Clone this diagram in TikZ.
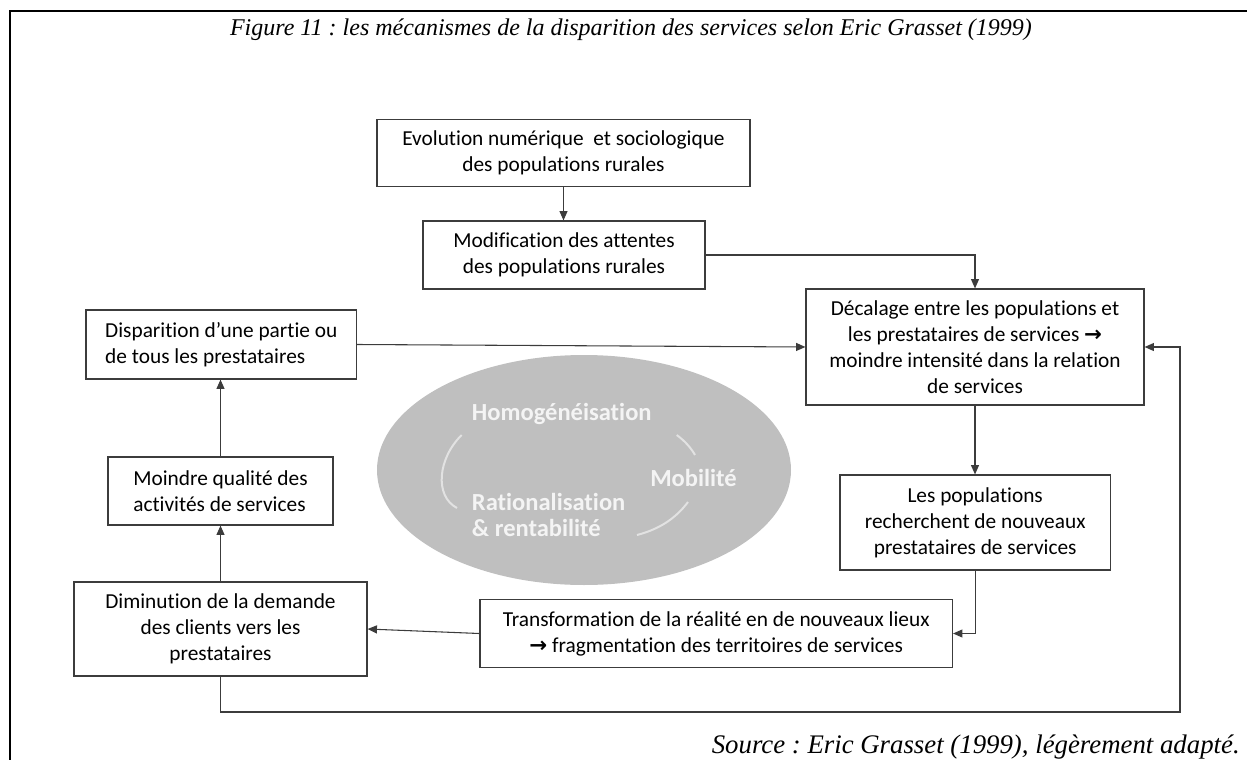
\documentclass[tikz,border=0pt]{standalone}
\usepackage{fontspec}
\setmainfont{Carlito}[Ligatures={NoCommon}]
\newfontfamily\titlefont{Liberation Serif}
\newfontfamily\symfont{DejaVu Sans}
\newcommand{\rarr}{{\symfont\bfseries →}}
\usetikzlibrary{arrows.meta}
\definecolor{linecol}{HTML}{3C3C3C}
\definecolor{ellcol}{HTML}{BFBFBF}
\definecolor{arccol}{HTML}{E2E2E2}
\definecolor{elltext}{HTML}{F4F4F4}
\frenchspacing
\begin{document}
\begin{tikzpicture}[x=0.75pt,y=-0.75pt,
  box/.style={draw=linecol, line width=0.9pt, fill=white, inner sep=0pt,
    font=\fontsize{16}{19.5}\selectfont, align=center},
  conn/.style={draw=linecol, line width=0.8pt, -{Triangle[length=7pt,width=6pt]}},
  elltxt/.style={text=elltext, font=\bfseries\fontsize{18.4}{20}\selectfont, inner sep=0pt, anchor=base west}]
\useasboundingbox (0,0) rectangle (1247,760);
\draw[line width=1.6pt] (10,760) -- (10,11) -- (1247,11);

\node[font=\titlefont\itshape\fontsize{18}{21}\selectfont, anchor=base, inner sep=0pt] (title) at (631,36)
  {Figure 11 : les mécanismes de la disparition des services selon Eric Grasset (1999)};
\node[font=\titlefont\itshape\fontsize{20.1}{24}\selectfont, anchor=base east, inner sep=0pt] (source) at (1240,753)
  {Source : Eric Grasset (1999), légèrement adapté.};

% ellipse
\fill[ellcol] (584,470) ellipse [x radius=155.25pt, y radius=86.25pt];
\draw[arccol, line width=1.5pt] (461.7,435) .. controls (438,458) and (434,496) .. (457,508);
\draw[arccol, line width=1.5pt] (676.7,435) .. controls (685,441) and (691,448) .. (695,455);
\draw[arccol, line width=1.5pt] (688,502) .. controls (676,518) and (660,529) .. (637,535);
\node[elltxt] (homo) at (471.7,420) {Homogénéisation};
\node[elltxt] (mobi) at (650,486.7) {Mobilité};
\node[elltxt] (rat1) at (471.7,510) {Rationalisation};
\node[elltxt] (rat2) at (471.7,536.7) {\& rentabilité};

% boxes
\node[box, minimum width=279.75pt, minimum height=50.25pt] (b1) at (563.5,153)
  {Evolution numérique\ \ et sociologique\\des populations rurales};
\node[box, minimum width=211.5pt, minimum height=51pt] (b2) at (564,255)
  {Modification des attentes\\des populations rurales};
\node[box, minimum width=253.5pt, minimum height=87pt] (b3) at (975,347)
  {Décalage entre les populations et\\les prestataires de services \rarr\\moindre intensité dans la relation\\de services};
\node[box, minimum width=202.9pt, minimum height=51.75pt, align=left] (b4) at (221.3,344.5)
  {Disparition d’une partie ou\\de tous les prestataires};
\node[box, minimum width=168.75pt, minimum height=51pt, align=left] (b5) at (220.5,491)
  {Moindre qualité des\\activités de services};
\node[box, minimum width=202.9pt, minimum height=71.25pt] (b6) at (975.2,522.5)
  {Les populations\\recherchent de nouveaux\\prestataires de services};
\node[box, minimum width=354.4pt, minimum height=51pt] (b7) at (716.2,633.5)
  {Transformation de la réalité en de nouveaux lieux\\\rarr\ fragmentation des territoires de services};
\node[box, minimum width=219.75pt, minimum height=70.5pt] (b8) at (220.5,629)
  {Diminution de la demande\\des clients vers les\\prestataires};

\coordinate (loopB) at (1180,712);

% connectors
\draw[conn] (b1.south) -- (b1.south |- b2.north);
\draw[conn] (b2.east) -| (b3.north);
\draw[conn] (b4.east) -- (b3.west);
\draw[conn] (b3.south) -- (b3.south |- b6.north);
\draw[conn] (b6.south) |- (b7.east);
\draw[conn] (b7.west) -- (b8.east);
\draw[conn] (b8.north) -- (b8.north |- b5.south);
\draw[conn] (b5.north) -- (b5.north |- b4.south);
\draw[conn] (b8.south) |- (loopB) |- (b3.east);
\end{tikzpicture}
\end{document}
